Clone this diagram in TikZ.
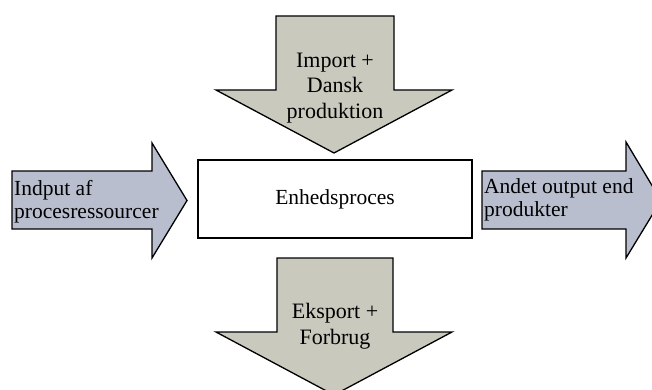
\documentclass[tikz,border=0pt]{standalone}
\usepackage{fontspec}
\setmainfont{Liberation Serif}
\definecolor{beige}{RGB}{201,201,190}
\definecolor{bluegrey}{RGB}{185,190,207}
\tikzset{
  blockarrow/.style={draw=black, line width=1.3pt, line join=miter},
  vtext/.style={align=center, font=\fontsize{22}{25.5}\selectfont, inner sep=0pt},
  htext/.style={align=left, font=\fontsize{21.5}{23}\selectfont, inner sep=0pt, anchor=north west},
  boxstyle/.style={draw=black, line width=1.3pt, fill=white}
}
\begin{document}
\begin{tikzpicture}[x=1pt,y=-1pt]
\clip (0,0) rectangle (652,390);
% top arrow
\path[blockarrow, fill=beige] (276,16) -- (394,16) -- (394,90) -- (452,90) -- (334,153) -- (216,90) -- (276,90) -- cycle;
% bottom arrow
\path[blockarrow, fill=beige] (277,258) -- (393,258) -- (393,332) -- (452,332) -- (334,395) -- (216,332) -- (277,332) -- cycle;
% left arrow
\path[blockarrow, fill=bluegrey] (12,171) -- (152,171) -- (152,143) -- (187,200.5) -- (152,258) -- (152,229) -- (12,229) -- cycle;
% right arrow
\path[blockarrow, fill=bluegrey] (482,171) -- (626,171) -- (626,142) -- (661,200.5) -- (626,258) -- (626,229) -- (482,229) -- cycle;
% box
\node[boxstyle, minimum width=274pt, minimum height=78pt, font=\fontsize{21.5}{24}\selectfont] (proc) at (335,199) {Enhedsproces};
% labels
\node[vtext] (import) at (335,88) {Import +\\Dansk\\produktion};
\node[vtext] (eksport) at (335,326) {Eksport +\\Forbrug};
\node[htext] (indput) at (14,180) {Indput af\\procesressourcer};
\node[htext] (andet) at (484,178) {Andet output end\\produkter};
\end{tikzpicture}
\end{document}
